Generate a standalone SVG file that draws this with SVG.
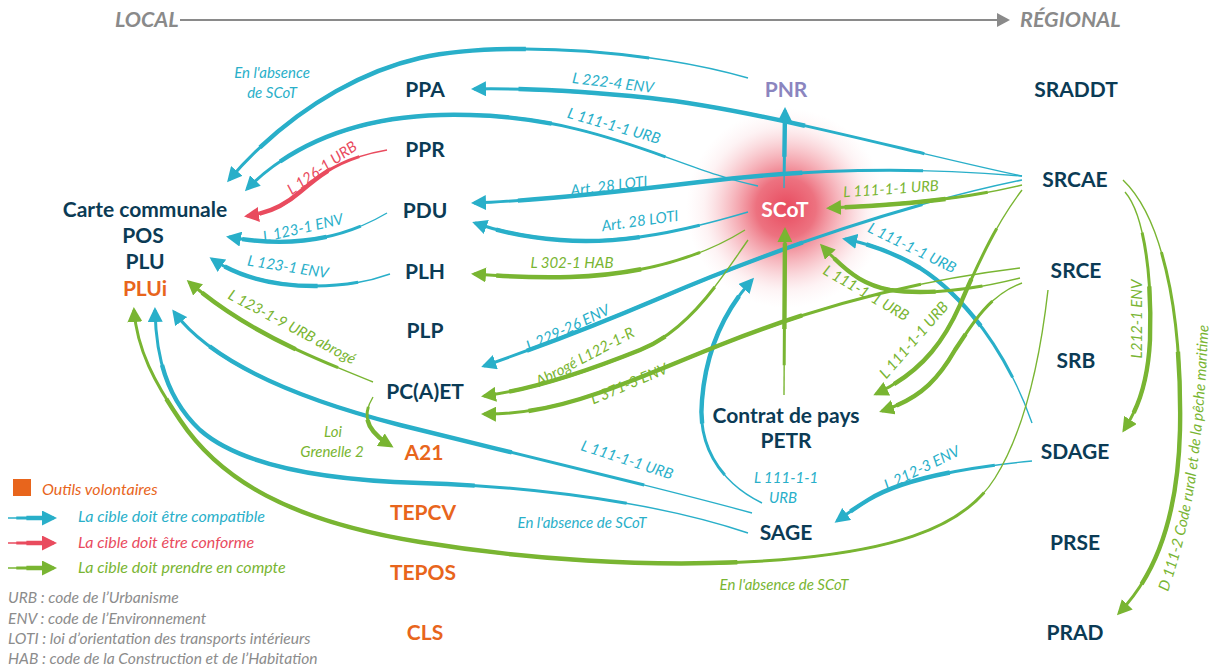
<svg xmlns="http://www.w3.org/2000/svg" xmlns:xlink="http://www.w3.org/1999/xlink" width="1215" height="668" viewBox="0 0 1215 668">
<style>
text{font-family:Lato,"Open Sans","Liberation Sans",sans-serif}
.node{font-weight:700;font-size:21px;fill:#0b3b55;text-anchor:middle}
.org{fill:#e8651c}
.lbl{font-style:italic;font-size:15px;text-anchor:middle}
.lb{fill:#29afc9}.lg{fill:#79b532}.lr{fill:#e94b5e}
.hdr{font-weight:700;font-style:italic;font-size:21.5px;fill:#8a8a8a}
.leg{font-style:italic;font-size:16px}
.gray{fill:#8c8c8c;font-size:15.6px}
.blue{stroke:#29afc9}.green{stroke:#79b532}.red{stroke:#e94b5e}
.cn use{fill:none}
.t1{stroke-width:1.4}
.t2{stroke-width:3;stroke-dasharray:0 18 82}
.t3{stroke-width:4.4;stroke-dasharray:0 40 52 100}
.blue .t1{marker-end:url(#mb)}
.green .t1{marker-end:url(#mg)}
.red .t1{marker-end:url(#mr)}
</style>
<defs>
<radialGradient id="glow" cx="0.5" cy="0.5" r="0.5">
<stop offset="0" stop-color="#e63a50" stop-opacity="0.92"/>
<stop offset="0.3" stop-color="#e84a5c" stop-opacity="0.78"/>
<stop offset="0.6" stop-color="#ee6e7c" stop-opacity="0.38"/>
<stop offset="0.82" stop-color="#f39aa4" stop-opacity="0.12"/>
<stop offset="1" stop-color="#f8c0c6" stop-opacity="0"/>
</radialGradient>
<marker id="mb" viewBox="0 0 15 15" refX="12" refY="7.5" markerWidth="15" markerHeight="15" markerUnits="userSpaceOnUse" orient="auto"><path d="M0,0 L15,7.5 L0,15 z" fill="#29afc9"/></marker>
<marker id="mg" viewBox="0 0 15 15" refX="12" refY="7.5" markerWidth="15" markerHeight="15" markerUnits="userSpaceOnUse" orient="auto"><path d="M0,0 L15,7.5 L0,15 z" fill="#79b532"/></marker>
<marker id="mr" viewBox="0 0 15 15" refX="12" refY="7.5" markerWidth="15" markerHeight="15" markerUnits="userSpaceOnUse" orient="auto"><path d="M0,0 L15,7.5 L0,15 z" fill="#e94b5e"/></marker>
<path id="b1" pathLength="100" d="M748,78 C650,50 500,40 420,58 C350,74 280,120 229,180"/>
<path id="b2" pathLength="100" d="M758,186 C680,170 600,118 470,115 C380,112 300,135 247,189"/>
<path id="b3" pathLength="100" d="M1022,176 C900,150 760,110 650,98 C580,91 530,88 474,89"/>
<path id="b4" pathLength="100" d="M1022,176 C900,166 800,170 700,182 C600,194 530,201 474,203"/>
<path id="b5" pathLength="100" d="M748,212 C680,232 620,245 560,240 C520,237 495,230 475,223"/>
<path id="b6" pathLength="100" d="M387,213 C350,235 300,250 229,237"/>
<path id="b7" pathLength="100" d="M390,274 C340,292 260,292 212,259"/>
<path id="b8" pathLength="100" d="M1022,180 C900,205 760,255 660,298 C580,332 530,350 484,366"/>
<path id="b9" pathLength="100" d="M752,513 C650,485 520,455 400,425 C290,397 210,360 174,312"/>
<path id="b10" pathLength="100" d="M748,533 C650,500 520,486 420,483 C320,480 240,465 200,430 C168,400 156,360 155,310"/>
<path id="b11" pathLength="100" d="M762,503 C715,480 698,440 702,400 C706,350 725,310 752,280"/>
<path id="b12" pathLength="100" d="M1032,423 C1010,360 970,300 920,268 C895,253 870,244 845,239"/>
<path id="b13" pathLength="100" d="M1032,461 C960,468 900,480 868,500 C855,508 848,513 837,521"/>
<path id="b14" pathLength="100" d="M784,188 L785,110"/>
<path id="r1" pathLength="100" d="M387,150 C340,158 320,175 300,192 C285,205 270,213 247,216"/>
<path id="g1" pathLength="100" d="M1022,185 C960,200 900,205 829,208"/>
<path id="g2" pathLength="100" d="M745,230 C700,258 640,275 570,277 C530,278 500,276 474,274"/>
<path id="g3" pathLength="100" d="M748,240 C720,280 690,330 640,350 C590,370 540,388 484,396"/>
<path id="g4" pathLength="100" d="M1020,268 C920,280 820,305 720,345 C620,385 560,415 484,414"/>
<path id="g5" pathLength="100" d="M373,382 C320,360 250,335 189,282"/>
<path id="g6" pathLength="100" d="M373,397 C362,415 365,430 391,446"/>
<path id="g7" pathLength="100" d="M784,395 L785,230"/>
<path id="g8" pathLength="100" d="M1020,278 C980,288 930,296 890,290 C860,284 845,270 822,246"/>
<path id="g9" pathLength="100" d="M1022,190 C995,225 975,270 960,305 C940,350 915,375 876,394"/>
<path id="g10" pathLength="100" d="M1022,283 C990,295 975,320 955,350 C935,385 915,400 882,411"/>
<path id="g11" pathLength="100" d="M1048,290 C1040,360 1025,430 995,478 C965,526 900,548 800,558 C700,568 560,565 420,542 C290,521 220,480 180,420 C155,383 137,350 134,310"/>
<path id="g12" pathLength="100" d="M1125,192 C1145,215 1152,280 1150,340 C1148,380 1140,405 1124,430"/>
<path id="g13" pathLength="100" d="M1123,180 C1165,220 1182,320 1180,430 C1178,510 1160,570 1119,613"/>
<path id="dpath" d="M1168,592 C1182,550 1192,510 1198,460 C1203,420 1207,370 1210,290"/>
<path id="lgb" pathLength="100" d="M8,518 L54,518"/>
<path id="lgr" pathLength="100" d="M8,543 L54,543"/>
<path id="lgg" pathLength="100" d="M8,568 L54,568"/>
</defs>

<rect width="1215" height="668" fill="#ffffff"/>

<g id="axis">
<line x1="180" y1="20" x2="999" y2="20" stroke="#8a8a8a" stroke-width="2"/>
<polygon points="997,13 1010,20 997,27" fill="#8a8a8a"/>
<text class="hdr" x="115" y="27">LOCAL</text>
<text class="hdr" x="1020" y="27">RÉGIONAL</text>
</g>

<circle id="scot-glow" cx="786" cy="208" r="100" fill="url(#glow)"/>

<g id="connectors" class="cn">
<g class="blue"><use href="#b1" class="t1"/><use href="#b1" class="t2"/><use href="#b1" class="t3"/></g>
<g class="blue"><use href="#b2" class="t1"/><use href="#b2" class="t2"/><use href="#b2" class="t3"/></g>
<g class="blue"><use href="#b3" class="t1"/><use href="#b3" class="t2"/><use href="#b3" class="t3"/></g>
<g class="blue"><use href="#b4" class="t1"/><use href="#b4" class="t2"/><use href="#b4" class="t3"/></g>
<g class="blue"><use href="#b5" class="t1"/><use href="#b5" class="t2"/><use href="#b5" class="t3"/></g>
<g class="blue"><use href="#b6" class="t1"/><use href="#b6" class="t2"/><use href="#b6" class="t3"/></g>
<g class="blue"><use href="#b7" class="t1"/><use href="#b7" class="t2"/><use href="#b7" class="t3"/></g>
<g class="blue"><use href="#b8" class="t1"/><use href="#b8" class="t2"/><use href="#b8" class="t3"/></g>
<g class="blue"><use href="#b9" class="t1"/><use href="#b9" class="t2"/><use href="#b9" class="t3"/></g>
<g class="blue"><use href="#b10" class="t1"/><use href="#b10" class="t2"/><use href="#b10" class="t3"/></g>
<g class="blue"><use href="#b11" class="t1"/><use href="#b11" class="t2"/><use href="#b11" class="t3"/></g>
<g class="blue"><use href="#b12" class="t1"/><use href="#b12" class="t2"/><use href="#b12" class="t3"/></g>
<g class="blue"><use href="#b13" class="t1"/><use href="#b13" class="t2"/><use href="#b13" class="t3"/></g>
<g class="blue"><use href="#b14" class="t1"/><use href="#b14" class="t2"/><use href="#b14" class="t3"/></g>
<g class="red"><use href="#r1" class="t1"/><use href="#r1" class="t2"/><use href="#r1" class="t3"/></g>
<g class="green"><use href="#g1" class="t1"/><use href="#g1" class="t2"/><use href="#g1" class="t3"/></g>
<g class="green"><use href="#g2" class="t1"/><use href="#g2" class="t2"/><use href="#g2" class="t3"/></g>
<g class="green"><use href="#g3" class="t1"/><use href="#g3" class="t2"/><use href="#g3" class="t3"/></g>
<g class="green"><use href="#g4" class="t1"/><use href="#g4" class="t2"/><use href="#g4" class="t3"/></g>
<g class="green"><use href="#g5" class="t1"/><use href="#g5" class="t2"/><use href="#g5" class="t3"/></g>
<g class="green"><use href="#g6" class="t1"/><use href="#g6" class="t2"/><use href="#g6" class="t3"/></g>
<g class="green"><use href="#g7" class="t1"/><use href="#g7" class="t2"/><use href="#g7" class="t3"/></g>
<g class="green"><use href="#g8" class="t1"/><use href="#g8" class="t2"/><use href="#g8" class="t3"/></g>
<g class="green"><use href="#g9" class="t1"/><use href="#g9" class="t2"/><use href="#g9" class="t3"/></g>
<g class="green"><use href="#g10" class="t1"/><use href="#g10" class="t2"/><use href="#g10" class="t3"/></g>
<g class="green"><use href="#g11" class="t1"/><use href="#g11" class="t2"/><use href="#g11" class="t3"/></g>
<g class="green"><use href="#g12" class="t1"/><use href="#g12" class="t2"/><use href="#g12" class="t3"/></g>
<g class="green"><use href="#g13" class="t1"/><use href="#g13" class="t2"/><use href="#g13" class="t3"/></g>
</g>

<g id="connector-labels">
<text class="lbl lb" x="272" y="78">En l'absence</text>
<text class="lbl lb" x="272" y="98">de SCoT</text>
<text class="lbl lb" transform="translate(613,83) rotate(7)" y="5">L 222-4 ENV</text>
<text class="lbl lb" transform="translate(614,126) rotate(16)" y="5">L 111-1-1 URB</text>
<text class="lbl lb" transform="translate(609,186) rotate(-7)" y="5">Art. 28 LOTI</text>
<text class="lbl lb" transform="translate(640,221) rotate(-8)" y="5">Art. 28 LOTI</text>
<text class="lbl lr" transform="translate(322,168) rotate(-35)" y="5">L 126-1 URB</text>
<text class="lbl lb" transform="translate(303,228) rotate(-13)" y="5">L 123-1 ENV</text>
<text class="lbl lb" transform="translate(288,267) rotate(9)" y="5">L 123-1 ENV</text>
<text class="lbl lg" transform="translate(292,327) rotate(28)" y="5">L 123-1-9 URB abrogé</text>
<text class="lbl lg" x="333" y="437">Loi</text>
<text class="lbl lg" x="332" y="457">Grenelle 2</text>
<text class="lbl lg" x="572" y="268">L 302-1 HAB</text>
<text class="lbl lb" transform="translate(568,328) rotate(-25)" y="5">L 229-26 ENV</text>
<text class="lbl lg" transform="translate(585,357) rotate(-28)" y="5">Abrogé L122-1-R</text>
<text class="lbl lg" transform="translate(629,384) rotate(-23)" y="5">L 371-3 ENV</text>
<text class="lbl lb" transform="translate(627,460) rotate(18)" y="5">L 111-1-1 URB</text>
<text class="lbl lb" x="582" y="528">En l'absence de SCoT</text>
<text class="lbl lb" x="786" y="483">L 111-1-1</text>
<text class="lbl lb" x="783" y="503">URB</text>
<text class="lbl lg" x="784" y="590">En l'absence de SCoT</text>
<text class="lbl lg" transform="translate(891,189) rotate(-4)" y="5">L 111-1-1 URB</text>
<text class="lbl lb" transform="translate(912,248) rotate(26)" y="5">L 111-1-1 URB</text>
<text class="lbl lg" transform="translate(866,293) rotate(30)" y="5">L 111-1-1 URB</text>
<text class="lbl lg" transform="translate(914,340) rotate(-49)" y="5">L 111-1-1 URB</text>
<text class="lbl lg" transform="translate(1137,319) rotate(-90)" y="5">L212-1 ENV</text>
<text class="lbl lg" style="text-anchor:start"><textPath href="#dpath">D 111-2 Code rural et de la pêche maritime</textPath></text>
<text class="lbl lb" transform="translate(922,468) rotate(-26)" y="5">L 212-3 ENV</text>
</g>

<g id="n-carte"><text class="node" x="145" y="217">Carte communale</text></g>
<g id="n-pos"><text class="node" x="143" y="243">POS</text></g>
<g id="n-plu"><text class="node" x="145" y="269">PLU</text></g>
<g id="n-plui"><text class="node org" x="145" y="296">PLUi</text></g>
<g id="n-ppa"><text class="node" x="425" y="97">PPA</text></g>
<g id="n-ppr"><text class="node" x="425" y="157">PPR</text></g>
<g id="n-pdu"><text class="node" x="425" y="218">PDU</text></g>
<g id="n-plh"><text class="node" x="425" y="279">PLH</text></g>
<g id="n-plp"><text class="node" x="425" y="338">PLP</text></g>
<g id="n-pcaet"><text class="node" x="425" y="399">PC(A)ET</text></g>
<g id="n-a21"><text class="node org" x="424" y="460">A21</text></g>
<g id="n-tepcv"><text class="node org" x="423" y="520">TEPCV</text></g>
<g id="n-tepos"><text class="node org" x="423" y="580">TEPOS</text></g>
<g id="n-cls"><text class="node org" x="425" y="640">CLS</text></g>
<g id="n-pnr"><text class="node" x="786" y="97" style="fill:#8b85bf">PNR</text></g>
<g id="n-scot"><text class="node" x="785" y="217" style="fill:#ffffff">SCoT</text></g>
<g id="n-contrat"><text class="node" x="786" y="423">Contrat de pays</text><text class="node" x="786" y="448">PETR</text></g>
<g id="n-sage"><text class="node" x="786" y="540">SAGE</text></g>
<g id="n-sraddt"><text class="node" x="1076" y="97">SRADDT</text></g>
<g id="n-srcae"><text class="node" x="1075" y="187">SRCAE</text></g>
<g id="n-srce"><text class="node" x="1076" y="278">SRCE</text></g>
<g id="n-srb"><text class="node" x="1076" y="368">SRB</text></g>
<g id="n-sdage"><text class="node" x="1075" y="459">SDAGE</text></g>
<g id="n-prse"><text class="node" x="1075" y="550">PRSE</text></g>
<g id="n-prad"><text class="node" x="1075" y="640">PRAD</text></g>

<g id="legend">
<rect x="13" y="479" width="18" height="17" fill="#e8651c"/>
<text class="leg" x="42" y="495" style="fill:#e8651c">Outils volontaires</text>
<g class="cn">
<g class="blue"><use href="#lgb" class="t1"/><use href="#lgb" class="t2"/><use href="#lgb" class="t3"/></g>
<g class="red"><use href="#lgr" class="t1"/><use href="#lgr" class="t2"/><use href="#lgr" class="t3"/></g>
<g class="green"><use href="#lgg" class="t1"/><use href="#lgg" class="t2"/><use href="#lgg" class="t3"/></g>
</g>
<text class="leg lb" x="78" y="522">La cible doit être compatible</text>
<text class="leg lr" x="78" y="548">La cible doit être conforme</text>
<text class="leg lg" x="78" y="573">La cible doit prendre en compte</text>
<text class="leg gray" x="8" y="603">URB : code de l’Urbanisme</text>
<text class="leg gray" x="8" y="624">ENV : code de l’Environnement</text>
<text class="leg gray" x="8" y="644">LOTI : loi d’orientation des transports intérieurs</text>
<text class="leg gray" x="8" y="664">HAB : code de la Construction et de l’Habitation</text>
</g>
</svg>
